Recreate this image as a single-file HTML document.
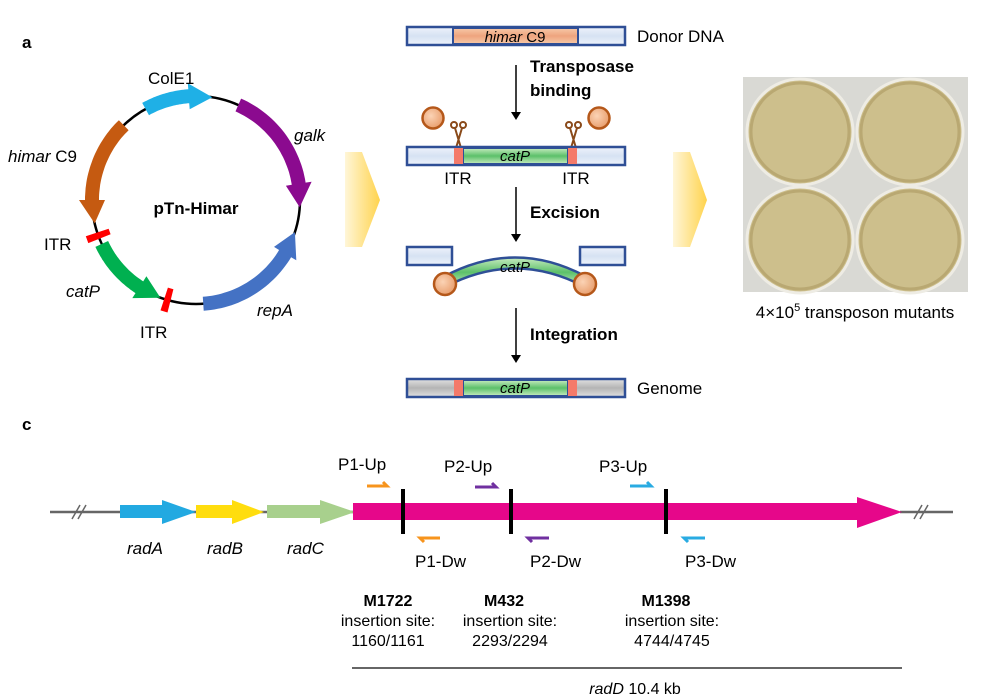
<!DOCTYPE html>
<html><head><meta charset="utf-8"><style>
body{margin:0;background:#fff;}
svg{display:block;font-family:"Liberation Sans",Arial,sans-serif;}
</style></head><body>
<svg id="s" width="986" height="700" viewBox="0 0 986 700" xmlns="http://www.w3.org/2000/svg">
<defs>
<linearGradient id="yg" x1="0" x2="1" y1="0" y2="0"><stop offset="0" stop-color="#fff6d8"/><stop offset="1" stop-color="#ffd34d"/></linearGradient>
<linearGradient id="lb" x1="0" x2="0" y1="0" y2="1"><stop offset="0" stop-color="#eef3fb"/><stop offset="0.5" stop-color="#d6e2f3"/><stop offset="1" stop-color="#eef3fb"/></linearGradient>
<linearGradient id="gr" x1="0" x2="0" y1="0" y2="1"><stop offset="0" stop-color="#c8ecc0"/><stop offset="0.5" stop-color="#5cc06a"/><stop offset="1" stop-color="#c8ecc0"/></linearGradient>
<linearGradient id="sa" x1="0" x2="0" y1="0" y2="1"><stop offset="0" stop-color="#f7c9a8"/><stop offset="0.5" stop-color="#eea47e"/><stop offset="1" stop-color="#f7c9a8"/></linearGradient>
<linearGradient id="gy" x1="0" x2="0" y1="0" y2="1"><stop offset="0" stop-color="#e2e2e2"/><stop offset="0.5" stop-color="#b4b4b4"/><stop offset="1" stop-color="#e2e2e2"/></linearGradient>
<radialGradient id="ball" cx="0.4" cy="0.4" r="0.6"><stop offset="0" stop-color="#fbd3b5"/><stop offset="1" stop-color="#e9a070"/></radialGradient>
</defs>
<text x="22" y="48" font-size="17" font-weight="bold">a</text>
<text x="22" y="430" font-size="17" font-weight="bold">c</text>

<g id="plasmid">
<circle cx="196" cy="200" r="104" fill="none" stroke="#000" stroke-width="2.5"/>
</g>
<text x="148" y="84" font-size="17">ColE1</text>
<text x="294" y="141" font-size="17" font-style="italic">galk</text>
<text x="8" y="162" font-size="17"><tspan font-style="italic">himar</tspan> C9</text>
<text x="196" y="214" font-size="17" font-weight="bold" text-anchor="middle">pTn-Himar</text>
<text x="44" y="250" font-size="17">ITR</text>
<text x="66" y="297" font-size="17" font-style="italic">catP</text>
<text x="140" y="338" font-size="17">ITR</text>
<text x="257" y="316" font-size="17" font-style="italic">repA</text>

<polygon points="345,152 362,152 380,200 362,247 345,247" fill="url(#yg)"/>
<polygon points="673,152 690,152 707,200 690,247 673,247" fill="url(#yg)"/>

<rect x="407" y="27" width="218" height="18" fill="url(#lb)" stroke="#2f4f96" stroke-width="2.5"/>
<rect x="453" y="28" width="125" height="16" fill="url(#sa)" stroke="#2f4f96" stroke-width="2"/>
<text x="515" y="42" font-size="15" text-anchor="middle"><tspan font-style="italic">himar</tspan> C9</text>
<text x="637" y="42" font-size="17">Donor DNA</text>
<g stroke="#000" stroke-width="1.5"><line x1="516" y1="65" x2="516" y2="114"/><line x1="516" y1="187" x2="516" y2="236"/><line x1="516" y1="308" x2="516" y2="357"/></g>
<g fill="#000"><polygon points="511,112 521,112 516,120"/><polygon points="511,234 521,234 516,242"/><polygon points="511,355 521,355 516,363"/></g>
<text x="530" y="72" font-size="17" font-weight="bold">Transposase</text>
<text x="530" y="96" font-size="17" font-weight="bold">binding</text>
<text x="530" y="218" font-size="17" font-weight="bold">Excision</text>
<text x="530" y="340" font-size="17" font-weight="bold">Integration</text>

<circle cx="433" cy="118" r="10.5" fill="url(#ball)" stroke="#b5581a" stroke-width="2.5"/>
<circle cx="599" cy="118" r="10.5" fill="url(#ball)" stroke="#b5581a" stroke-width="2.5"/>
<g stroke="#8a4a1a" stroke-width="2" fill="none">
<circle cx="454" cy="125" r="3"/><circle cx="463" cy="125" r="3"/><path d="M455,128 L461,148 M462,128 L456,148"/>
<circle cx="569" cy="125" r="3"/><circle cx="578" cy="125" r="3"/><path d="M570,128 L576,148 M577,128 L571,148"/>
</g>
<rect x="407" y="147" width="218" height="18" fill="url(#lb)" stroke="#2f4f96" stroke-width="2.5"/>
<rect x="463" y="148" width="105" height="16" fill="url(#gr)" stroke="#2f4f96" stroke-width="2"/>
<rect x="454" y="148" width="9" height="16" fill="#f47a6a"/>
<rect x="568" y="148" width="9" height="16" fill="#f47a6a"/>
<text x="515" y="161" font-size="15" font-style="italic" text-anchor="middle">catP</text>
<text x="458" y="184" font-size="17" text-anchor="middle">ITR</text>
<text x="576" y="184" font-size="17" text-anchor="middle">ITR</text>

<rect x="407" y="247" width="45" height="18" fill="url(#lb)" stroke="#2f4f96" stroke-width="2.5"/>
<rect x="580" y="247" width="45" height="18" fill="url(#lb)" stroke="#2f4f96" stroke-width="2.5"/>
<path d="M445,287 Q515,250 585,287 L585,276 Q515,239 445,276 Z" fill="url(#gr)" stroke="#2f4f96" stroke-width="2.5"/>
<text x="515" y="272" font-size="15" font-style="italic" text-anchor="middle">catP</text>
<circle cx="445" cy="284" r="11" fill="url(#ball)" stroke="#b5581a" stroke-width="2.5"/>
<circle cx="585" cy="284" r="11" fill="url(#ball)" stroke="#b5581a" stroke-width="2.5"/>

<rect x="407" y="379" width="218" height="18" fill="url(#gy)" stroke="#2f4f96" stroke-width="2.5"/>
<rect x="463" y="380" width="105" height="16" fill="url(#gr)" stroke="#2f4f96" stroke-width="2"/>
<rect x="454" y="380" width="9" height="16" fill="#f47a6a"/>
<rect x="568" y="380" width="9" height="16" fill="#f47a6a"/>
<text x="515" y="393" font-size="15" font-style="italic" text-anchor="middle">catP</text>
<text x="637" y="394" font-size="17">Genome</text>

<rect x="743" y="77" width="225" height="215" fill="#d9d9d4"/>
<g fill="#cdbf8c" stroke="#eeece4" stroke-width="3">
<circle cx="800" cy="132" r="53"/><circle cx="910" cy="132" r="53"/><circle cx="800" cy="240" r="53"/><circle cx="910" cy="240" r="53"/>
</g>
<g fill="none" stroke="#b9a872" stroke-width="3"><circle cx="800" cy="132" r="49"/><circle cx="910" cy="132" r="49"/><circle cx="800" cy="240" r="49"/><circle cx="910" cy="240" r="49"/></g>
<text x="855" y="318" font-size="17" text-anchor="middle">4×10<tspan font-size="11" dy="-7">5</tspan><tspan dy="7"> transposon mutants</tspan></text>

<line x1="50" y1="512" x2="355" y2="512" stroke="#666" stroke-width="2.5"/>
<line x1="900" y1="512" x2="953" y2="512" stroke="#666" stroke-width="2.5"/>
<g stroke="#666" stroke-width="1.5"><line x1="72" y1="519" x2="80" y2="505"/><line x1="78" y1="519" x2="86" y2="505"/><line x1="914" y1="519" x2="922" y2="505"/><line x1="920" y1="519" x2="928" y2="505"/></g>
<polygon points="120,505 162,505 162,500 196,512 162,524 162,518 120,518" fill="#22a9e1"/>
<polygon points="196,505 232,505 232,500 264,512 232,524 232,518 196,518" fill="#ffdd0e"/>
<polygon points="267,505 320,505 320,500 355,512 320,524 320,518 267,518" fill="#a8d08d"/>
<polygon points="353,503 857,503 857,497 902,512 857,528 857,520 353,520" fill="#e6078a"/>
<g stroke="#000" stroke-width="4"><line x1="403" y1="489" x2="403" y2="534"/><line x1="511" y1="489" x2="511" y2="534"/><line x1="666" y1="489" x2="666" y2="534"/></g>
<g fill="none" stroke-width="3">
<path d="M367,486 L387,486 L383,482" stroke="#f7941d"/>
<path d="M475,487 L496,487 L492,483" stroke="#7030a0"/>
<path d="M630,486 L651,486 L647,482" stroke="#29abe2"/>
<path d="M440,538 L420,538 L424,542" stroke="#f7941d"/>
<path d="M549,538 L528,538 L532,542" stroke="#7030a0"/>
<path d="M705,538 L684,538 L688,542" stroke="#29abe2"/>
</g>
<g font-size="17">
<text x="338" y="470">P1-Up</text><text x="444" y="472">P2-Up</text><text x="599" y="472">P3-Up</text>
<text x="415" y="567">P1-Dw</text><text x="530" y="567">P2-Dw</text><text x="685" y="567">P3-Dw</text>
<text x="127" y="554" font-style="italic">radA</text><text x="207" y="554" font-style="italic">radB</text><text x="287" y="554" font-style="italic">radC</text>
</g>
<g font-size="16" text-anchor="middle">
<text x="388" y="606" font-weight="bold">M1722</text><text x="388" y="626">insertion site:</text><text x="388" y="646">1160/1161</text>
<text x="504" y="606" font-weight="bold">M432</text><text x="510" y="626">insertion site:</text><text x="510" y="646">2293/2294</text>
<text x="666" y="606" font-weight="bold">M1398</text><text x="672" y="626">insertion site:</text><text x="672" y="646">4744/4745</text>
<text x="635" y="694"><tspan font-style="italic">radD</tspan> 10.4 kb</text>
</g>
<line x1="352" y1="668" x2="902" y2="668" stroke="#333" stroke-width="1.5"/>
</svg>
<script>
(function(){
var cx=196,cy=200,R=104,w=7,hw=13,g=document.getElementById('plasmid');
function P(r,a){a=a*Math.PI/180;return [(cx+r*Math.sin(a)).toFixed(1),(cy-r*Math.cos(a)).toFixed(1)].join(',');}
function arc(a1,a2,col){
 var d=a2>a1?1:-1,h=13,ab=a2-d*h,pts=[],i,n=30;
 for(i=0;i<=n;i++)pts.push(P(R+w,a1+(ab-a1)*i/n));
 pts.push(P(R+hw,ab));pts.push(P(R,a2));pts.push(P(R-hw,ab));
 for(i=n;i>=0;i--)pts.push(P(R-w,a1+(ab-a1)*i/n));
 var p=document.createElementNS('http://www.w3.org/2000/svg','polygon');
 p.setAttribute('points',pts.join(' '));p.setAttribute('fill',col);g.appendChild(p);
}
function itr(a){
 var pts=[P(R-12,a-1.8),P(R+12,a-1.8),P(R+12,a+1.8),P(R-12,a+1.8)];
 var p=document.createElementNS('http://www.w3.org/2000/svg','polygon');
 p.setAttribute('points',pts.join(' '));p.setAttribute('fill','#ff0000');g.appendChild(p);
}
arc(-29,9,'#1fb0e6');arc(24,94,'#8b0a8f');arc(176,108,'#4472c4');arc(245,200,'#00b050');arc(316,257,'#c55a11');
itr(250);itr(196);
})();
</script>
</body></html>
